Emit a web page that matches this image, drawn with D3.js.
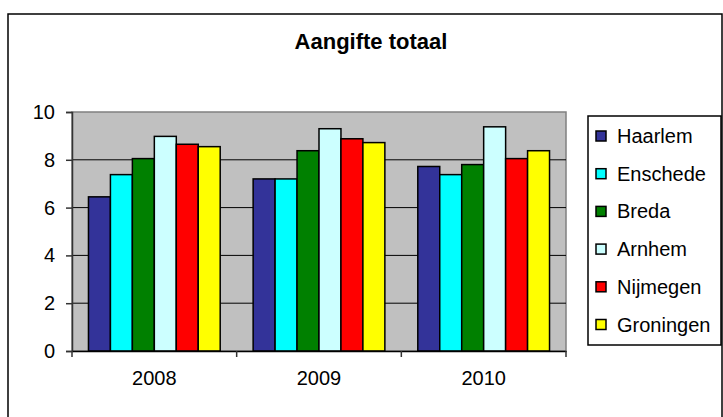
<!DOCTYPE html>
<html>
<head>
<meta charset="utf-8">
<script src="https://cdn.jsdelivr.net/npm/d3@7"></script>
<style>
  body { margin: 0; background: #fff; }
  text { font-family: "Liberation Sans", Arial, sans-serif; }
</style>
</head>
<body>
<div id="chart"></div>
<script>
// data
const years = ["2008", "2009", "2010"];
const cities = ["Haarlem", "Enschede", "Breda", "Arnhem", "Nijmegen", "Groningen"];
const haarlem   = [6.45, 7.2, 7.72];
const enschede  = [7.38, 7.2, 7.38];
const breda     = [8.05, 8.38, 7.8];
const arnhem    = [8.98, 9.3, 9.38];
const nijmegen  = [8.65, 8.88, 8.05];
const groningen = [8.55, 8.72, 8.38];
const yTicks = [0, 2, 4, 6, 8, 10];

const seriesValues = [haarlem, enschede, breda, arnhem, nijmegen, groningen];
const colors = ["#333399", "#00FFFF", "#008000", "#CCFFFF", "#FF0000", "#FFFF00"];

const W = 723, H = 417;
const plot = { left: 72, top: 112, right: 566, bottom: 351 };

const svg = d3.select("#chart").append("svg")
    .attr("width", W)
    .attr("height", H);

// outer chart border
svg.append("rect")
    .attr("x", 8).attr("y", 14)
    .attr("width", 714).attr("height", 430)
    .attr("fill", "#fff")
    .attr("stroke", "#000")
    .attr("stroke-width", 1.5);

// title
svg.append("text")
    .attr("x", 371).attr("y", 49)
    .attr("text-anchor", "middle")
    .style("font-size", "22px")
    .style("font-weight", "bold")
    .text("Aangifte totaal");

const x0 = d3.scaleBand()
    .domain(years)
    .range([plot.left, plot.right])
    .padding(0);

const x1 = d3.scaleBand()
    .domain(cities)
    .range([0, x0.bandwidth()])
    .paddingInner(0)
    .paddingOuter(0.75);

const y = d3.scaleLinear()
    .domain([0, 10])
    .range([plot.bottom, plot.top]);

// plot background
svg.append("rect")
    .attr("x", plot.left).attr("y", plot.top)
    .attr("width", plot.right - plot.left)
    .attr("height", plot.bottom - plot.top)
    .attr("fill", "#C0C0C0")
    .attr("stroke", "#808080")
    .attr("stroke-width", 1.5);

// gridlines
svg.selectAll("line.grid")
    .data(yTicks.filter(d => d > 0 && d < 10))
    .enter()
    .append("line")
    .attr("class", "grid")
    .attr("x1", plot.left).attr("x2", plot.right)
    .attr("y1", d => y(d)).attr("y2", d => y(d))
    .style("stroke", "#000")
    .style("stroke-width", 1);

// bars
const groups = svg.selectAll("g.year")
    .data(years)
    .enter()
    .append("g")
    .attr("class", "year")
    .attr("transform", d => `translate(${x0(d)},0)`);

groups.selectAll("rect")
    .data((yr, i) => cities.map((c, j) => ({ city: c, value: seriesValues[j][i], color: colors[j] })))
    .enter()
    .append("rect")
    .attr("x", d => x1(d.city))
    .attr("width", x1.bandwidth())
    .attr("y", d => y(d.value))
    .attr("height", d => y(0) - y(d.value))
    .attr("fill", d => d.color)
    .attr("stroke", "#000")
    .attr("stroke-width", 1.5);

// y axis
const yAxis = svg.append("g")
    .attr("transform", `translate(${plot.left},0)`)
    .call(d3.axisLeft(y)
        .tickValues(yTicks)
        .tickSize(6)
        .tickPadding(11)
        .tickFormat(d3.format("d")));
yAxis.select(".domain").attr("stroke", "#333").attr("stroke-width", 1.5);
yAxis.selectAll("line").attr("stroke", "#333").attr("stroke-width", 1.5);
yAxis.selectAll("text")
    .style("font-size", "20px")
    .style("font-family", "Liberation Sans, Arial, sans-serif")
    .attr("fill", "#000");

// x axis
const xAxis = svg.append("g")
    .attr("transform", `translate(0,${plot.bottom})`)
    .call(d3.axisBottom(x0).tickSize(0).tickPadding(20));
xAxis.select(".domain").attr("stroke", "#000").attr("stroke-width", 1.5);
xAxis.selectAll("text")
    .style("font-size", "20px")
    .style("font-family", "Liberation Sans, Arial, sans-serif")
    .attr("fill", "#000");

// tick marks between categories
const edges = years.map(d => x0(d)).concat([x0(years[years.length - 1]) + x0.bandwidth()]);
svg.selectAll("line.xtick")
    .data(edges)
    .enter()
    .append("line")
    .attr("class", "xtick")
    .attr("x1", d => d).attr("x2", d => d)
    .attr("y1", plot.bottom).attr("y2", plot.bottom + 6)
    .style("stroke", "#333")
    .style("stroke-width", 1.5);

// legend
const legend = svg.append("g");
legend.append("rect")
    .attr("x", 588).attr("y", 116)
    .attr("width", 133).attr("height", 229)
    .attr("fill", "#fff")
    .attr("stroke", "#000")
    .attr("stroke-width", 1.5);

const items = legend.selectAll("g.item")
    .data(cities)
    .enter()
    .append("g")
    .attr("class", "item")
    .attr("transform", (d, i) => `translate(0,${143 + i * 37.7})`);

items.append("rect")
    .attr("x", 596).attr("y", -12)
    .attr("width", 10).attr("height", 10)
    .attr("fill", (d, i) => colors[i])
    .attr("stroke", "#000")
    .attr("stroke-width", 1.5);

items.append("text")
    .attr("x", 617).attr("y", 0)
    .style("font-size", "20px")
    .text(d => d);
</script>
</body>
</html>
